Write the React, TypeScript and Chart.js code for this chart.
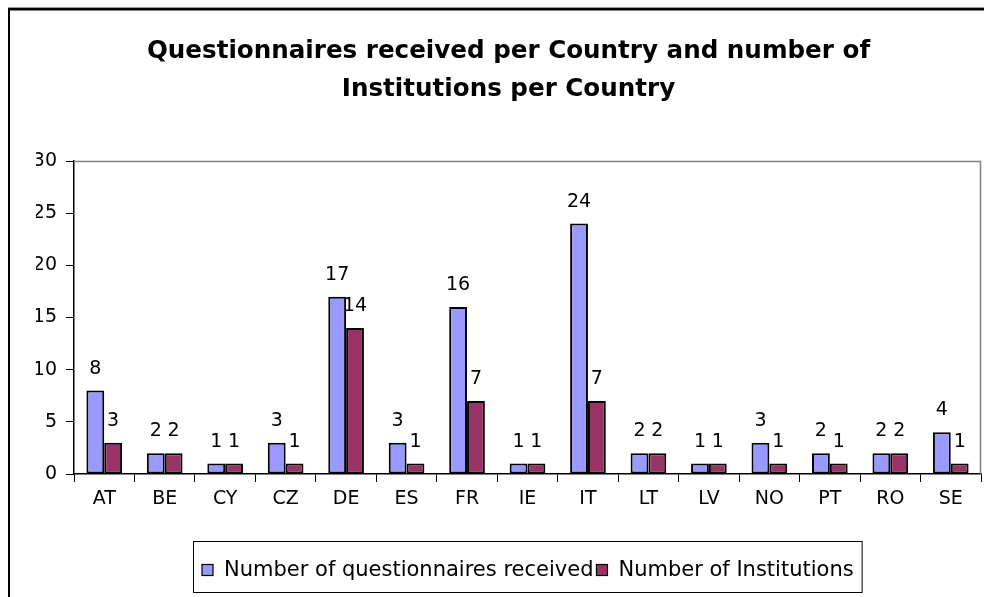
import React, { useEffect, useRef } from "react";
import { Chart, registerables } from "chart.js";

Chart.register(...registerables);

const categories = ["AT", "BE", "CY", "CZ", "DE", "ES", "FR", "IE", "IT", "LT", "LV", "NO", "PT", "RO", "SE"];
const questionnaires = [8, 2, 1, 3, 17, 3, 16, 1, 24, 2, 1, 3, 2, 2, 4];
const institutions = [3, 2, 1, 1, 14, 1, 7, 1, 7, 2, 1, 1, 1, 2, 1];
const seriesNames = ["Number of questionnaires received", "Number of Institutions"];
const titleLines = ["Questionnaires received per Country and number of", "Institutions per Country"];
const yMin = 0;
const yMax = 30;
const yStep = 5;

const FONT = "'DejaVu Sans', 'Liberation Sans', Arial, sans-serif";

const decorPlugin = {
  id: "decor",
  beforeDatasetsDraw(chart: any) {
    const { ctx, chartArea } = chart;
    ctx.save();
    ctx.strokeStyle = "#808080";
    ctx.lineWidth = 1.5;
    ctx.beginPath();
    ctx.moveTo(chartArea.left, chartArea.top + 0.5);
    ctx.lineTo(chartArea.right - 0.5, chartArea.top + 0.5);
    ctx.lineTo(chartArea.right - 0.5, chartArea.bottom);
    ctx.stroke();
    ctx.restore();
  },
  afterDatasetsDraw(chart: any) {
    const { ctx } = chart;
    ctx.save();
    ctx.fillStyle = "#000";
    ctx.font = `19px ${FONT}`;
    ctx.textAlign = "center";
    ctx.textBaseline = "alphabetic";
    chart.data.datasets.forEach((ds: any, di: number) => {
      const meta = chart.getDatasetMeta(di);
      meta.data.forEach((bar: any, i: number) => {
        ctx.fillText(String(ds.data[i]), bar.x, bar.y - 17);
      });
    });
    ctx.restore();
  },
  afterDraw(chart: any) {
    const { ctx } = chart;
    ctx.save();
    // outer chart frame (top/left visible)
    ctx.fillStyle = "#9a9a9a";
    ctx.fillRect(8, 7, 984, 1);
    ctx.fillStyle = "#000";
    ctx.fillRect(8, 8, 984, 2.5);
    ctx.fillRect(8, 8, 2, 600);

    // legend
    const boxL = 193, boxT = 541, boxB = 592;
    ctx.font = `21px ${FONT}`;
    ctx.textBaseline = "middle";
    ctx.textAlign = "left";
    let x = 202;
    const cy = 570;
    let end = x;
    chart.data.datasets.forEach((ds: any) => {
      ctx.fillStyle = ds.backgroundColor;
      ctx.fillRect(x, cy - 5.5, 11, 11);
      ctx.strokeStyle = "#000";
      ctx.lineWidth = 1.2;
      ctx.strokeRect(x, cy - 5.5, 11, 11);
      ctx.fillStyle = "#000";
      ctx.fillText(ds.label, x + 22, cy + 1);
      const w = ctx.measureText(ds.label).width;
      end = x + 22 + w;
      x = end + 3;
    });
    const boxR = end + 8;
    ctx.strokeStyle = "#000";
    ctx.lineWidth = 1;
    ctx.strokeRect(boxL + 0.5, boxT + 0.5, boxR - boxL, boxB - boxT);
    ctx.restore();
  },
};

export default function App() {
  const ref = useRef<HTMLCanvasElement | null>(null);
  useEffect(() => {
    if (!ref.current) return;
    const chart = new Chart(ref.current, {
      type: "bar",
      data: {
        labels: categories,
        datasets: [
          {
            label: seriesNames[0],
            data: questionnaires,
            backgroundColor: "#9999FF",
            borderColor: "#000",
            borderWidth: 2,
            borderSkipped: false,
            barPercentage: 1,
            categoryPercentage: 0.59,
          },
          {
            label: seriesNames[1],
            data: institutions,
            backgroundColor: "#993366",
            borderColor: "#000",
            borderWidth: 2,
            borderSkipped: false,
            barPercentage: 1,
            categoryPercentage: 0.59,
          },
        ],
      },
      options: {
        responsive: false,
        animation: false,
        layout: { padding: { left: 36, right: 3, top: 0, bottom: 0 } },
        plugins: {
          legend: { display: false },
          tooltip: { enabled: false },
          title: {
            display: true,
            text: titleLines,
            color: "#000",
            font: { family: FONT, size: 24.6, weight: "bold", lineHeight: 38 / 24.6 },
            padding: { top: 33, bottom: 52 },
          },
        },
        scales: {
          x: {
            grid: {
              display: true,
              drawOnChartArea: false,
              drawTicks: true,
              tickLength: 8,
              color: "#000",
              lineWidth: 1,
              offset: true,
            },
            border: { display: true, color: "#000", width: 1.5 },
            ticks: {
              color: "#000",
              font: { family: FONT, size: 19 },
              autoSkip: false,
              maxRotation: 0,
              padding: 6,
            },
            afterFit: (s: any) => {
              s.height = 123;
            },
          },
          y: {
            min: yMin,
            max: yMax,
            grid: {
              display: true,
              drawOnChartArea: false,
              drawTicks: true,
              tickLength: 8,
              color: "#000",
              lineWidth: 1,
            },
            border: { display: true, color: "#000", width: 1.5 },
            ticks: {
              stepSize: yStep,
              color: "#000",
              font: { family: FONT, size: 19 },
              padding: 9,
            },
            afterFit: (s: any) => {
              s.width = 38;
            },
          },
        },
      },
      plugins: [decorPlugin],
    });
    return () => chart.destroy();
  }, []);
  return (
    <div style={{ position: "absolute", left: 0, top: 0, width: 984, height: 597, overflow: "hidden", background: "#fff" }}>
      <canvas ref={ref} width={984} height={597} style={{ display: "block" }} />
    </div>
  );
}
